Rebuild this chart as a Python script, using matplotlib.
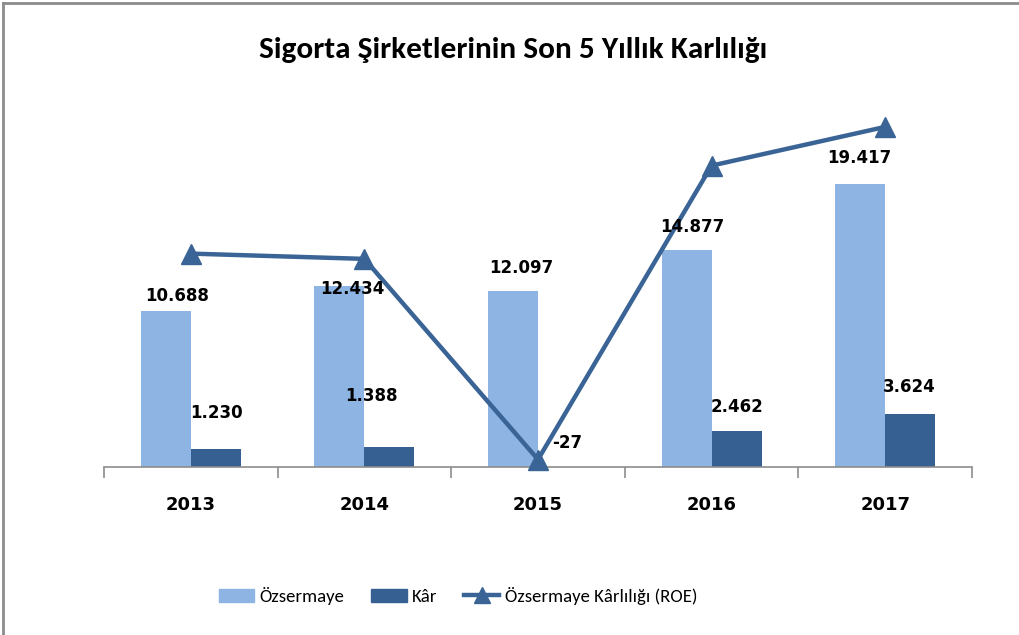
import matplotlib
matplotlib.use("Agg")
import matplotlib.pyplot as plt
from matplotlib.patches import Patch
from matplotlib.lines import Line2D
from matplotlib import font_manager as fm

years = ["2013", "2014", "2015", "2016", "2017"]
ozsermaye = [10688, 12434, 12097, 14877, 19417]
kar = [1230, 1388, -27, 2462, 3624]
roe = [11.5, 11.2, -0.2, 16.5, 18.7]
oz_labels = ["10.688", "12.434", "12.097", "14.877", "19.417"]
kar_labels = ["1.230", "1.388", "-27", "2.462", "3.624"]

c_light = "#8EB4E3"
c_dark = "#366092"
c_line = "#3A6495"

available = {f.name for f in fm.fontManager.ttflist}
narrow_font = "DejaVu Sans"
for cand in ["Carlito", "Liberation Sans Narrow", "Open Sans Condensed", "Roboto Condensed",
             "Archivo Narrow", "PT Sans Narrow", "Asap Condensed"]:
    if cand in available:
        narrow_font = cand
        break
narrow = [narrow_font, "DejaVu Sans"]

fig = plt.figure(figsize=(10.19, 6.35), dpi=100)
ax = fig.add_axes([104/1019, 168/635, 868/1019, 379/635])
ax2 = ax.twinx()

x = list(range(len(years)))
bw = 0.288
off = 0.144
ax.bar([i - off for i in x], ozsermaye, width=bw, color=c_light, zorder=2)
ax.bar([i + off for i in x], kar, width=bw, color=c_dark, zorder=2)
ax.set_xlim(-0.5, 4.5)
ax.set_ylim(0, 26000)

ax2.plot(x, roe, color=c_line, lw=3.2, marker="^", markersize=15, zorder=5, clip_on=False)
ax2.set_ylim(-0.625, 20.91)

for a in (ax, ax2):
    for s in ("top", "right", "left"):
        a.spines[s].set_visible(False)
    a.set_yticks([])
ax2.spines["bottom"].set_visible(False)
ax.spines["bottom"].set_color("#8C8C8C")
ax.spines["bottom"].set_linewidth(1.2)
ax.set_zorder(1)
ax2.set_zorder(2)
ax.patch.set_visible(False)

ax.set_xticks(x)
ax.set_xticklabels(years, fontweight="bold", fontsize=13, family="DejaVu Sans")
ax.tick_params(axis="x", which="major", length=0, pad=21)
ax.set_xticks([-0.5, 0.5, 1.5, 2.5, 3.5, 4.5], minor=True)
ax.tick_params(axis="x", which="minor", length=8, color="#8C8C8C", width=1.2)

# label offsets in pixels (dx, dy above bar top)
oz_off = [(11, 15), (13, -3), (8, 23), (6, 23), (-1, 26)]
kar_off = [(1, 36), (-18, 51), (4, 24), (0, 24), (-1, 27)]
for i in x:
    ax2.annotate(oz_labels[i], xy=(i - off, ozsermaye[i]), xycoords=ax.transData,
                 xytext=oz_off[i], textcoords="offset pixels", ha="center", va="center",
                 fontsize=12, fontweight="bold", family="DejaVu Sans", zorder=10)
    ax2.annotate(kar_labels[i], xy=(i + off, max(kar[i], 0)), xycoords=ax.transData,
                 xytext=kar_off[i], textcoords="offset pixels", ha="center", va="center",
                 fontsize=12, fontweight="bold", family="DejaVu Sans", zorder=10)

fig.text(513/1019, 1 - 50/635, "Sigorta Şirketlerinin Son 5 Yıllık Karlılığı",
         ha="center", va="center", fontsize=22.5, fontweight="bold", family=narrow)

handles = [Patch(color=c_light), Patch(color=c_dark),
           Line2D([], [], color=c_line, lw=3.2, marker="^", markersize=11)]
fig.legend(handles, ["Özsermaye", "Kâr", "Özsermaye Kârlılığı (ROE)"],
           loc="center", bbox_to_anchor=(458/1019, 1 - 596/635), ncol=3, frameon=False,
           prop={"family": narrow, "size": 13.5}, handlelength=1.9, handletextpad=0.3,
           columnspacing=1.4)

# outer frame (top and left edges)
fig.add_artist(Line2D([3/1019, 1], [1 - 3/635, 1 - 3/635], transform=fig.transFigure, color="#8C8C8C", lw=2))
fig.add_artist(Line2D([3/1019, 3/1019], [0, 1 - 3/635], transform=fig.transFigure, color="#8C8C8C", lw=2))

fig.savefig("out.png", dpi=100)
